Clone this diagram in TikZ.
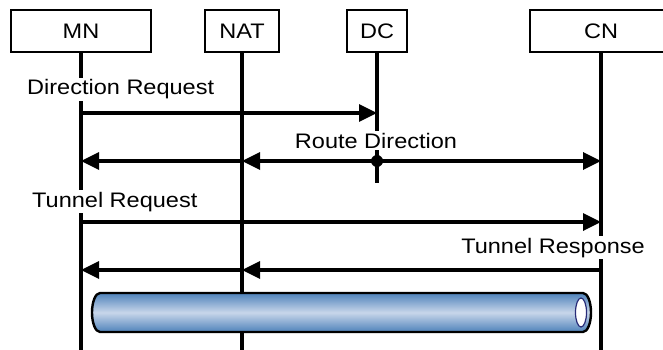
\documentclass[tikz,border=0pt]{standalone}
\usepackage{fontspec}
\setmainfont{Liberation Sans}[FakeStretch=1.12]
\usetikzlibrary{arrows.meta}

\definecolor{tubeblue}{RGB}{78,130,186}
\definecolor{tubelight}{RGB}{200,214,234}
\definecolor{tubeedge}{RGB}{40,44,120}

\begin{document}
\begin{tikzpicture}[x=1pt,y=-1pt,
	entity/.style={draw,line width=1.4pt,minimum height=42pt,inner sep=0pt,font=\fontsize{21}{25}\selectfont},
	lifeline/.style={line width=3.4pt},
	msg/.style={line width=3.4pt,-{Triangle[length=18pt,width=17pt]}},
	msglabel/.style={fill=white,inner sep=2pt,font=\fontsize{21}{25}\selectfont}]
		\useasboundingbox (0,0) rectangle (663,350);
		
		% Entities
		\node[entity,minimum width=140pt] (MN) at (81,31) {MN};
		\node[entity,minimum width=74pt] (NAT) at (242,31) {NAT};
		\node[entity,minimum width=60pt] (DC) at (377,31) {DC};
		\node[entity,minimum width=142pt] (CN) at (601,31) {CN};
		
		% Lifelines
		\coordinate (MN-end) at (MN.south |- 0,350);
		\coordinate (NAT-end) at (NAT.south |- 0,350);
		\coordinate (DC-end) at (DC.south |- 0,183);
		\coordinate (CN-end) at (CN.south |- 0,350);
		\foreach \n in {MN,NAT,DC,CN}
			\draw[lifeline] (\n.south) -- (\n-end);
		
		% Message points
		\foreach \n in {MN,NAT,DC,CN}
			\foreach \r/\y in {a/113,b/161,c/222,d/270}
				\coordinate (\n-\r) at (\n.south |- 0,\y);
		
		% Labels
		\node[msglabel,anchor=base west] (dirreq) at (25,95) {Direction Request};
		\node[msglabel,anchor=base] (routedir) at (376,148) {Route Direction};
		\node[msglabel,anchor=base west] (tunreq) at (30,207) {Tunnel Request};
		\node[msglabel,anchor=base east] (tunresp) at (647,253) {Tunnel Response};
		
		% Messages
		\draw[msg] (MN-a) -- (DC-a);
		\draw[msg] (DC-b) -- (NAT-b);
		\draw[msg] (NAT-b) -- (MN-b);
		\draw[msg] (DC-b) -- (CN-b);
		\fill (DC-b) circle (6pt);
		\draw[msg] (MN-c) -- (CN-c);
		\draw[msg] (CN-d) -- (NAT-d);
		\draw[msg] (NAT-d) -- (MN-d);
		
		% Tunnel
		\shade[top color=tubeblue,bottom color=tubeblue,middle color=tubelight,draw=black,line width=2.4pt]
			(100,293) -- (583,293) arc[start angle=-90,end angle=90,x radius=8,y radius=19.5]
			-- (100,332) arc[start angle=90,end angle=270,x radius=8,y radius=19.5] -- cycle;
		\draw[draw=tubeedge,fill=white,line width=1.2pt] (581,312.5) ellipse[x radius=5.5,y radius=14.5];
		
\end{tikzpicture}
\end{document}
